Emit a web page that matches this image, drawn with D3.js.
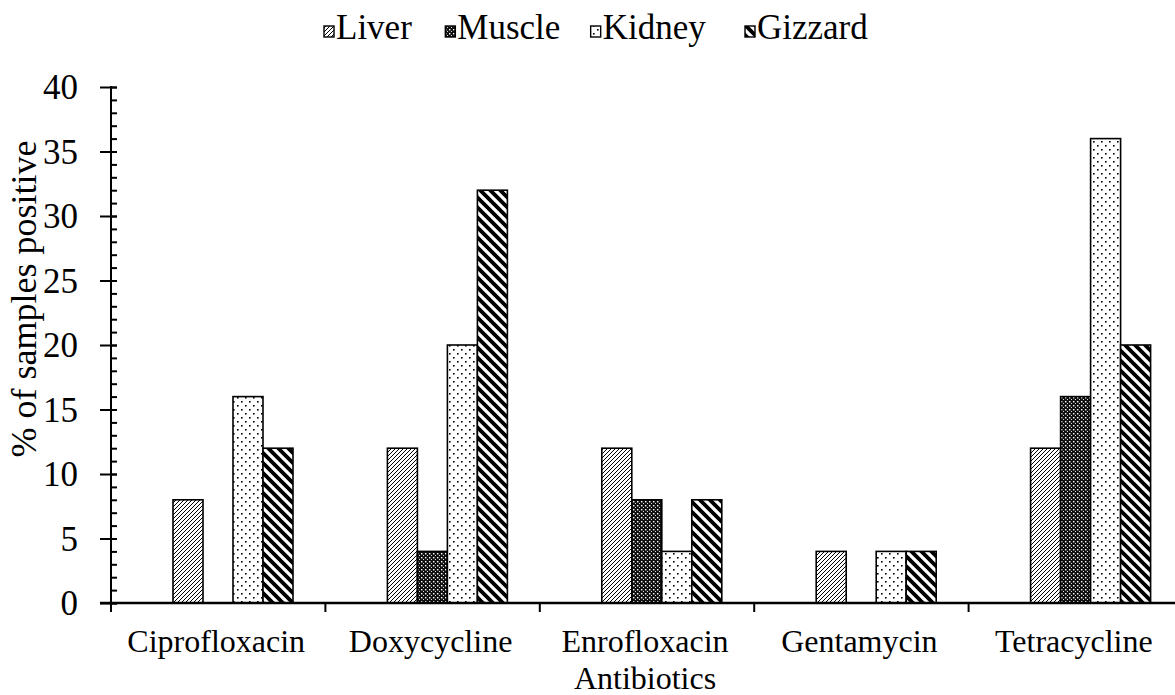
<!DOCTYPE html>
<html>
<head>
<script src="https://cdn.jsdelivr.net/npm/d3@7/dist/d3.min.js"></script>
</head>
<body style="margin:0">
<svg id="chart" width="1175" height="695" font-family="Times New Roman, Liberation Serif, Tinos, serif"></svg>
<script>
const categories = ["Ciprofloxacin", "Doxycycline", "Enrofloxacin", "Gentamycin", "Tetracycline"];
const seriesNames = ["Liver", "Muscle", "Kidney", "Gizzard"];
const liver   = [8, 12, 12, 4, 12];
const muscle  = [0, 4, 8, 0, 16];
const kidney  = [16, 20, 4, 4, 36];
const gizzard = [12, 32, 8, 4, 20];
const yMajorTicks = [0, 5, 10, 15, 20, 25, 30, 35, 40];
const yTitle = "% of samples positive";
const xTitle = "Antibiotics";

const seriesValues = [liver, muscle, kidney, gizzard];
const patternIds = ["pLiver", "pMuscle", "pKidney", "pGizzard"];
const FONT = "Times New Roman, Liberation Serif, Tinos, serif";

const svg = d3.select("#chart");
const defs = svg.append("defs");

// Liver: thin upward diagonal lines
{
  const p = defs.append("pattern").attr("id", "pLiver").attr("patternUnits", "userSpaceOnUse")
    .attr("width", 4).attr("height", 4);
  p.append("rect").attr("width", 4).attr("height", 4).attr("fill", "#fff");
  p.append("path").attr("d", "M-1,1 L1,-1 M0,4 L4,0 M3,5 L5,3").attr("stroke", "#000").attr("stroke-width", 1);
}
// Muscle: dense dark grid with white dots
{
  const p = defs.append("pattern").attr("id", "pMuscle").attr("patternUnits", "userSpaceOnUse")
    .attr("width", 4).attr("height", 4);
  p.append("rect").attr("width", 4).attr("height", 4).attr("fill", "#111");
  p.append("rect").attr("x", 1).attr("y", 1).attr("width", 1.4).attr("height", 1.4).attr("fill", "#fff");
  p.append("rect").attr("x", 3).attr("y", 3).attr("width", 1.2).attr("height", 1.2).attr("fill", "#ddd");
}
// Kidney: sparse dots
{
  const p = defs.append("pattern").attr("id", "pKidney").attr("patternUnits", "userSpaceOnUse")
    .attr("width", 8).attr("height", 8);
  p.append("rect").attr("width", 8).attr("height", 8).attr("fill", "#fff");
  p.append("rect").attr("x", 1).attr("y", 1).attr("width", 1.6).attr("height", 1.6).attr("fill", "#000");
  p.append("rect").attr("x", 5).attr("y", 5).attr("width", 1.6).attr("height", 1.6).attr("fill", "#000");
}
// Gizzard: wide downward diagonal thick stripes
{
  const p = defs.append("pattern").attr("id", "pGizzard").attr("patternUnits", "userSpaceOnUse")
    .attr("width", 10).attr("height", 10);
  p.append("rect").attr("width", 10).attr("height", 10).attr("fill", "#fff");
  p.append("path").attr("d", "M-2,-2 L12,12 M-2,8 L2,12 M8,-2 L12,2").attr("stroke", "#000").attr("stroke-width", 3.8);
}

const x0 = 111, x1 = 1183, yBase = 603, yTop = 87;

const x = d3.scaleBand().domain(categories).range([x0, x1]).padding(0);
const xInner = d3.scaleBand().domain(seriesNames).range([62, 182]).padding(0);
const y = d3.scaleLinear().domain([0, 40]).range([yBase, yTop]);

// Bars
const g = svg.append("g");
seriesNames.forEach((s, si) => {
  g.append("g").selectAll("rect").data(categories.map((c, ci) => ({c, v: seriesValues[si][ci]})))
    .join("rect")
    .filter(d => d.v > 0)
    .attr("x", d => x(d.c) + xInner(s))
    .attr("y", d => y(d.v))
    .attr("width", xInner.bandwidth())
    .attr("height", d => y(0) - y(d.v))
    .attr("fill", `url(#${patternIds[si]})`)
    .attr("stroke", "#000").attr("stroke-width", 1.6);
});

// Y axis: minor ticks (right side), major ticks (crossing) with labels
const minorTicks = d3.range(0, 41, 1);
svg.append("g").attr("transform", `translate(${x0},0)`)
  .call(d3.axisRight(y).tickValues(minorTicks).tickSize(6).tickFormat(""))
  .call(a => a.select(".domain").remove())
  .call(a => a.selectAll("line").attr("stroke", "#000").attr("stroke-width", 2));
svg.append("g").attr("transform", `translate(${x0 + 6},0)`)
  .call(d3.axisLeft(y).tickValues(yMajorTicks).tickSize(17).tickPadding(22).tickFormat(d3.format("d")))
  .attr("font-family", FONT).attr("font-size", 35)
  .call(a => a.select(".domain").remove())
  .call(a => a.selectAll("line").attr("stroke", "#000").attr("stroke-width", 2))
  .call(a => a.selectAll("text").attr("font-family", FONT).attr("font-size", 35).attr("fill", "#000").attr("dy", "0.34em"));
// Y axis line
svg.append("line").attr("x1", x0).attr("x2", x0).attr("y1", y(40) - 1).attr("y2", yBase + 9)
  .attr("stroke", "#000").attr("stroke-width", 2);

// X axis line and boundary ticks
svg.append("line").attr("x1", x0 - 11).attr("x2", 1175).attr("y1", yBase).attr("y2", yBase)
  .attr("stroke", "#000").attr("stroke-width", 2.4);
svg.append("g").selectAll("line").data(categories.slice(1))
  .join("line")
  .attr("x1", d => x(d)).attr("x2", d => x(d))
  .attr("y1", yBase).attr("y2", yBase + 9)
  .attr("stroke", "#000").attr("stroke-width", 2);

// X category labels
svg.append("g").attr("transform", `translate(-2,${yBase})`)
  .call(d3.axisBottom(x).tickSize(0).tickPadding(0))
  .attr("font-family", FONT).attr("font-size", 32)
  .call(a => a.select(".domain").remove())
  .call(a => a.selectAll("text").attr("font-family", FONT).attr("font-size", 32).attr("fill", "#000")
    .attr("dy", 0).attr("y", 49));

// Axis titles
svg.append("text").attr("x", 645).attr("y", 689).attr("text-anchor", "middle")
  .attr("font-family", FONT).attr("font-size", 32).text(xTitle);
svg.append("text").attr("transform", "translate(36,299) rotate(-90)").attr("text-anchor", "middle")
  .attr("font-family", FONT).attr("font-size", 36).text(yTitle);

const legendX = d3.scalePoint().domain(seriesNames).range([324, 745]);
const legendOffsets = {Liver: 0, Muscle: -19, Kidney: -14, Gizzard: 0};
const legend = svg.append("g");
seriesNames.forEach((s, i) => {
  const lx = legendX(s) + legendOffsets[s];
  legend.append("rect").attr("x", lx).attr("y", 26).attr("width", 10).attr("height", 11)
    .attr("fill", `url(#${patternIds[i]})`).attr("stroke", "#000").attr("stroke-width", 1.4);
  legend.append("text").attr("x", lx + 12).attr("y", 39)
    .attr("font-family", FONT).attr("font-size", 35).text(s);
});
</script>
</body>
</html>
